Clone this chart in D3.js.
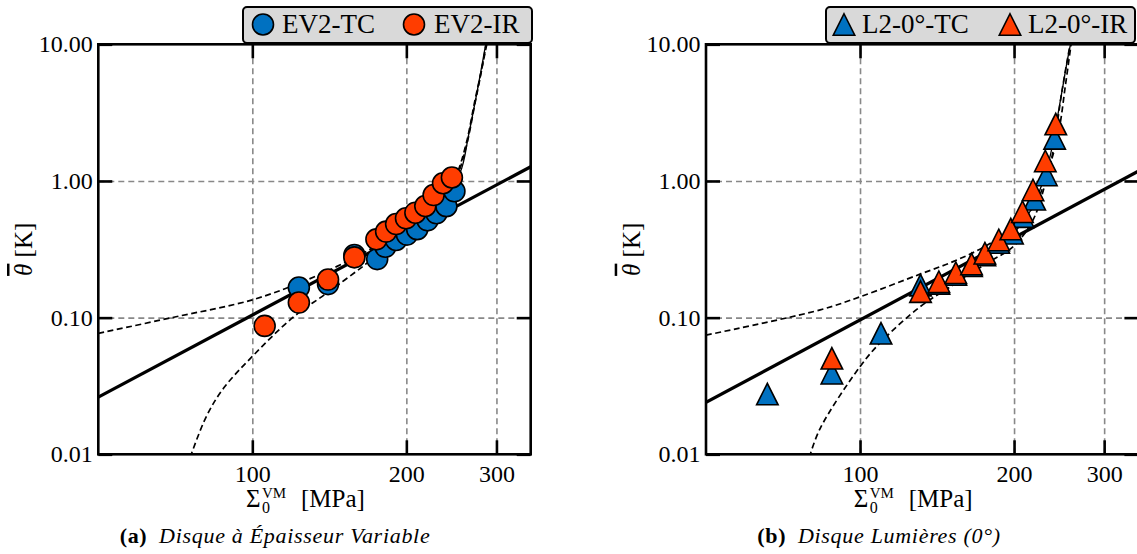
<!DOCTYPE html>
<html><head><meta charset="utf-8">
<script src="https://cdn.jsdelivr.net/npm/d3@7"></script>
<style>
body{margin:0;background:#fff;}
svg text{font-family:'Liberation Serif' !important;}
</style></head>
<body><svg id="chart" width="1137" height="554" font-family="Liberation Serif"></svg>
<script>
// ---------- data ----------
const xTicks = [100, 200, 300];
const yTicks = [0.01, 0.1, 1, 10];
const yTickLabels = ["0.01", "0.10", "1.00", "10.00"];
const xDomain = [50, 350];
const yDomain = [0.01, 10];

// panel (a)
const evTC = [[123.3,0.166],[140.6,0.176],[158.3,0.287],[175.4,0.268],[182,0.33],[191,0.37],[200.5,0.405],[210,0.444],[220,0.515],[229,0.58],[239.5,0.654],[248.3,0.84]];
const evIR = [[105.7,0.087],[123.3,0.129],[140.6,0.19],[158.3,0.276],[174.8,0.374],[182.6,0.426],[191,0.484],[199.7,0.533],[208.3,0.586],[217.8,0.656],[226.1,0.789],[235.9,0.962],[245.5,1.06]];
const evPower = [[50,0.0262],[350,1.27]];
const evUpper = [[50,0.0767],[69.6,0.100],[100,0.135],[129.7,0.193],[158.7,0.276],[185,0.38],[210,0.52],[235,0.78],[250,1.05],[262,1.8],[272,3.6],[280,6.2],[287,10.5]];
const evLower = [[75.6,0.0095],[81.3,0.0189],[87.9,0.0305],[100,0.052],[119.9,0.100],[140.1,0.152],[166.3,0.245],[190,0.37],[215,0.56],[235,0.80],[250,1.1],[262,1.9],[272,3.8],[280,6.3],[288,10.5]];
const evModel = [[175,0.33],[200,0.44],[225,0.66],[245,1.0],[254.6,1.15],[265,2.22],[273.4,4.0],[280,6.5],[286.5,10.5]];

// panel (b)
const l2TC = [[65.9,0.0276],[88.1,0.0392],[109.9,0.0768],[131.3,0.173],[142.6,0.178],[153.9,0.207],[165.2,0.240],[175.4,0.288],[186.7,0.355],[198.6,0.414],[208.3,0.548],[219.5,0.734],[231.3,1.106],[240.1,2.05]];
const l2IR = [[88.1,0.0504],[131.3,0.155],[142.6,0.183],[153.9,0.213],[165.2,0.247],[175.4,0.296],[186.7,0.370],[197.1,0.445],[207.7,0.596],[217.8,0.859],[230.2,1.40],[241.3,2.61]];
const l2Power = [[50,0.024],[350,1.18]];
const l2Upper = [[50,0.0745],[83.6,0.114],[100,0.142],[131,0.208],[152,0.257],[175,0.33],[200,0.46],[220,0.68],[235,1.3],[245,2.4],[252,5.0],[259,10.5]];
const l2Lower = [[79.6,0.0095],[83.6,0.0155],[100,0.0438],[110,0.0667],[131,0.12],[152,0.173],[176.6,0.249],[199,0.33],[217.8,0.518],[230,0.95],[238,1.6],[248,4.5],[258,10.5]];
const l2Model = [[185,0.34],[200,0.42],[215,0.6],[228,1.0],[236,1.6],[242,2.65],[249.5,5.1],[254,7.5],[258.5,10.5]];

const blue = "#0071C1", red = "#FF3D00";
const FONT = "Liberation Serif";

const panels = [
  {ox:0, tc:evTC, ir:evIR, power:evPower, upper:evUpper, lower:evLower, model:evModel,
   marker:"circle", names:["EV2-TC","EV2-IR"], legend:{x:243,w:289,m1:263,t1:282,m2:414,t2:434},
   capBold:"(a)", capText:"Disque à Épaisseur Variable", capX:275},
  {ox:607.7, tc:l2TC, ir:l2IR, power:l2Power, upper:l2Upper, lower:l2Lower, model:l2Model,
   marker:"triangle", names:["L2-0°-TC","L2-0°-IR"], legend:{x:826,w:309,m1:844,t1:862,m2:1010,t2:1028},
   capBold:"(b)", capText:"Disque Lumières (0°)", capX:879}
];

const svg = d3.select("#chart");
const L = 98.3, R = 530.7, T = 44.3, B = 454.3;

const triPath = (s) => `M0,${-s/2}L${s/2},${s/2}L${-s/2},${s/2}Z`;
const txt = (sel) => sel.attr("font-family", FONT).attr("fill", "#000");

panels.forEach((p, i) => {
  const x = d3.scaleLog().domain(xDomain).range([L + p.ox, R + p.ox]);
  const y = d3.scaleLog().domain(yDomain).range([B, T]);
  const g = svg.append("g");
  const cid = "clip" + i;
  svg.append("defs").append("clipPath").attr("id", cid)
    .append("rect").attr("x", L + p.ox).attr("y", T).attr("width", R - L).attr("height", B - T);

  // grid
  g.append("g").attr("transform", `translate(0,${B})`)
    .call(d3.axisBottom(x).tickValues(xTicks).tickSize(-(B - T)).tickFormat(""))
    .call(a => a.select(".domain").remove())
    .call(a => a.selectAll("line").attr("stroke", "#888").attr("stroke-width", 1.6).attr("stroke-dasharray", "6,4"));
  g.append("g").attr("transform", `translate(${L + p.ox},0)`)
    .call(d3.axisLeft(y).tickValues([0.1, 1]).tickSize(-(R - L)).tickFormat(""))
    .call(a => a.select(".domain").remove())
    .call(a => a.selectAll("line").attr("stroke", "#888").attr("stroke-width", 1.6).attr("stroke-dasharray", "6,4"));

  // curves
  const line = d3.line().x(d => x(d[0])).y(d => y(d[1]));
  const cl = d3.line().x(d => x(d[0])).y(d => y(d[1])).curve(d3.curveCatmullRom.alpha(0.5));
  const cg = g.append("g").attr("clip-path", `url(#${cid})`);
  cg.append("path").datum(p.upper).attr("d", cl).attr("fill", "none").attr("stroke", "#000").attr("stroke-width", 1.7).attr("stroke-dasharray", "6,3.5");
  cg.append("path").datum(p.lower).attr("d", cl).attr("fill", "none").attr("stroke", "#000").attr("stroke-width", 1.7).attr("stroke-dasharray", "6,3.5");
  cg.append("path").datum(p.model).attr("d", cl).attr("fill", "none").attr("stroke", "#000").attr("stroke-width", 1.3);
  cg.append("path").datum(p.power).attr("d", line).attr("fill", "none").attr("stroke", "#000").attr("stroke-width", 3.2);

  // markers
  const drawMarkers = (data, color) => {
    if (p.marker === "circle") {
      g.append("g").selectAll("circle").data(data).join("circle")
        .attr("cx", d => x(d[0])).attr("cy", d => y(d[1])).attr("r", 10.5)
        .attr("fill", color).attr("stroke", "#000").attr("stroke-width", 1.6);
    } else {
      g.append("g").selectAll("path").data(data).join("path")
        .attr("transform", d => `translate(${x(d[0])},${y(d[1])})`)
        .attr("d", triPath(21.5)).attr("fill", color).attr("stroke", "#000").attr("stroke-width", 1.6).attr("stroke-linejoin", "miter");
    }
  };
  drawMarkers(p.tc, blue);
  drawMarkers(p.ir, red);

  // frame
  g.append("rect").attr("x", L + p.ox).attr("y", T).attr("width", R - L).attr("height", B - T)
    .attr("fill", "none").attr("stroke", "#000").attr("stroke-width", 2.6);

  // ticks
  const tickStyle = a => { a.select(".domain").remove(); a.selectAll("line").attr("stroke", "#000").attr("stroke-width", 2.6); };
  g.append("g").attr("transform", `translate(0,${B})`)
    .call(d3.axisBottom(x).tickValues(xTicks).tickSize(-14).tickPadding(11).tickFormat(d3.format("d")))
    .call(tickStyle)
    .call(a => a.attr("font-family", FONT).attr("font-size", 24))
    .call(a => a.selectAll("text").call(txt));
  g.append("g").attr("transform", `translate(0,${T})`)
    .call(d3.axisTop(x).tickValues(xTicks).tickSize(-14).tickFormat(""))
    .call(tickStyle);
  g.append("g").attr("transform", `translate(${L + p.ox},0)`)
    .call(d3.axisLeft(y).tickValues(yTicks).tickSize(-14).tickPadding(5.5).tickFormat((d, k) => yTickLabels[k]))
    .call(tickStyle)
    .call(a => a.attr("font-family", FONT).attr("font-size", 24))
    .call(a => a.selectAll("text").call(txt));
  g.append("g").attr("transform", `translate(${R + p.ox},0)`)
    .call(d3.axisRight(y).tickValues(yTicks).tickSize(-14).tickFormat(""))
    .call(tickStyle);

  // y label
  const yl = g.append("text").attr("transform", `translate(${23 + p.ox},${(T + B) / 2}) rotate(-90)`)
    .attr("text-anchor", "middle").attr("dominant-baseline", "central").attr("font-size", 25).call(txt);
  yl.append("tspan").attr("font-style", "italic").attr("text-decoration", "overline").text("θ");
  yl.append("tspan").text(" [K]");

  // x label (Σ with stacked sub/superscript)
  const x0 = 309 + p.ox - 63;
  const xg = g.append("g").attr("transform", `translate(${x0},507)`);
  xg.append("text").attr("x", 0).attr("y", 0).attr("font-size", 25).call(txt).text("Σ");
  xg.append("text").attr("x", 16).attr("y", -9).attr("font-size", 15).call(txt).text("VM");
  xg.append("text").attr("x", 16).attr("y", 6).attr("font-size", 16).call(txt).text("0");
  xg.append("text").attr("x", 55).attr("y", 0).attr("font-size", 25).call(txt).text("[MPa]");

  // caption
  const cap = svg.append("text").attr("x", p.capX).attr("y", 543).attr("text-anchor", "middle")
    .attr("font-size", 22).attr("letter-spacing", 0.7).call(txt);
  cap.append("tspan").attr("font-weight", "bold").text(p.capBold);
  cap.append("tspan").attr("font-style", "italic").text("\u2002" + p.capText);

  // legend
  const lg = svg.append("g");
  lg.append("rect").attr("x", p.legend.x).attr("y", 7).attr("width", p.legend.w).attr("height", 36).attr("rx", 4)
    .attr("fill", "#d9d9d9").attr("stroke", "#000").attr("stroke-width", 2);
  [[p.legend.m1, blue, p.legend.t1, p.names[0]], [p.legend.m2, red, p.legend.t2, p.names[1]]].forEach(([mx, c, tx, name]) => {
    if (p.marker === "circle") {
      lg.append("circle").attr("cx", mx).attr("cy", 24.5).attr("r", 10.5).attr("fill", c).attr("stroke", "#000").attr("stroke-width", 1.6);
    } else {
      lg.append("path").attr("transform", `translate(${mx},24.5)`).attr("d", triPath(21.5)).attr("fill", c).attr("stroke", "#000").attr("stroke-width", 1.6);
    }
    lg.append("text").attr("x", tx).attr("y", 33.3).attr("font-size", 27).call(txt).text(name);
  });
});
</script></body></html>
